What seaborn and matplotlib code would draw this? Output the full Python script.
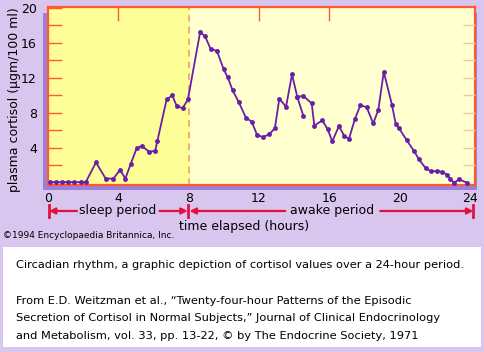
import numpy as np
import pandas as pd
import matplotlib
matplotlib.use('Agg')
import matplotlib.pyplot as plt
from matplotlib.patches import Rectangle
import seaborn as sns

# cortisol samples (hours, ug/100 ml)
hours = [0.1, 0.45, 0.8, 1.15, 1.5, 1.85, 2.15, 2.73, 3.28, 3.72, 4.1, 4.4,
         4.7, 5.04, 5.33, 5.76, 6.1, 6.22, 6.75, 7.07, 7.32, 7.66, 7.96,
         8.65, 8.93, 9.25, 9.61, 9.99, 10.22, 10.5, 10.85, 11.26, 11.59,
         11.89, 12.21, 12.59, 12.91, 13.16, 13.54, 13.88, 14.18, 14.52,
         15.0, 15.15, 15.6, 15.91, 16.17, 16.55, 16.86, 17.12, 17.46, 17.77,
         18.13, 18.5, 18.79, 19.1, 19.57, 19.78, 19.97, 20.4, 20.84, 21.1,
         21.48, 21.77, 22.1, 22.43, 22.71, 22.87, 23.09, 23.4, 23.82]
cortisol = [0.1, 0.1, 0.1, 0.1, 0.1, 0.1, 0.1, 2.35, 0.5, 0.5, 1.5, 0.5,
            2.15, 3.95, 4.25, 3.55, 3.7, 4.8, 9.55, 10.0, 8.8, 8.55, 9.55,
            17.2, 16.8, 15.3, 15.1, 13.0, 12.1, 10.6, 9.25, 7.45, 7.0,
            5.5, 5.25, 5.55, 6.3, 9.65, 8.7, 12.4, 9.85, 9.95,
            9.1, 6.55, 7.15, 6.15, 4.75, 6.5, 5.35, 5.05, 7.3, 8.9,
            8.65, 6.8, 8.35, 12.7, 8.9, 6.75, 6.25, 4.9, 3.6, 2.7,
            1.7, 1.35, 1.35, 1.25, 0.95, 0.5, 0.05, 0.4, 0.05]
# stray branch drawn in the original
stray_hours = [14.18, 14.52]
stray_cortisol = [9.85, 7.7]

x_ticks = [0, 4, 8, 12, 16, 20, 24]
y_ticks = [2, 4, 6, 8, 10, 12, 14, 16, 18, 20]
y_labels = ['', '4', '', '8', '', '12', '', '16', '', '20']

BG = '#d9c6ef'
ORANGE = '#ff5a30'
LINE = '#6a1fa8'
RED = '#e3103c'

W, H = 484, 352
fig = plt.figure(figsize=(W / 100, H / 100), dpi=100)
fig.patch.set_facecolor(BG)

def px(x0, y0, x1, y1):
    return [x0 / W, 1 - y1 / H, (x1 - x0) / W, (y1 - y0) / H]

# purple drop shadow behind the plot box
r = px(43, 13, 477, 190)
fig.add_artist(Rectangle((r[0], r[1]), r[2], r[3], transform=fig.transFigure,
                         facecolor='#9a80d6', edgecolor='none', zorder=-1))
# white caption box
r = px(3, 247, 481, 347)
fig.add_artist(Rectangle((r[0], r[1]), r[2], r[3], transform=fig.transFigure,
                         facecolor='white', edgecolor='none', zorder=-1))

ax = fig.add_axes(px(48, 7, 475, 185))
ax.set_facecolor('#ffffcf')
ax.axvspan(0, 8, color='#fefe98', zorder=0)
ax.axvline(8, color='#f4a070', lw=1.2, ls=(0, (4, 3)), zorder=1)

df = pd.DataFrame({'hours': hours, 'cortisol': cortisol})
sns.lineplot(data=df, x='hours', y='cortisol', sort=False, ax=ax, color=LINE,
             lw=1.3, marker='o', markersize=3.5, markeredgewidth=0, zorder=3)
sns.lineplot(x=stray_hours, y=stray_cortisol, sort=False, ax=ax, color=LINE,
             lw=1.3, marker='o', markersize=3.5, markeredgewidth=0, zorder=3)

ax.set_xlim(0, 24.29)
ax.set_ylim(-0.23, 20.11)
ax.set_xlabel('')
ax.set_ylabel('')
for s in ax.spines.values():
    s.set_color(ORANGE)
    s.set_linewidth(1.6)

ax.set_xticks(x_ticks)
ax.set_xticklabels([str(v) for v in x_ticks])
ax.set_xticks([4, 12, 16, 20], minor=True)
ax.tick_params(axis='x', which='major', length=0, pad=5, labelsize=9)
ax.tick_params(axis='x', which='minor', direction='in', length=10,
               color=ORANGE, width=1)
ax.set_yticks(y_ticks)
ax.set_yticklabels(y_labels)
ax.tick_params(axis='y', direction='in', length=10, color=ORANGE, width=1,
               pad=8, labelsize=9)

top = ax.secondary_xaxis('top')
top.set_xticks([4, 12, 16])
top.tick_params(direction='in', length=10, color=ORANGE, width=1,
                labeltop=False)
top.spines['top'].set_visible(False)

right = ax.twinx()
right.set_ylim(ax.get_ylim())
right.set_yticks(y_ticks[:-1])
right.tick_params(direction='in', length=9, color='#f6c79a', width=1,
                  labelright=False)
for s in right.spines.values():
    s.set_visible(False)

# sleep / awake arrows under the axis
yf = -0.146
kw = dict(xycoords=('data', 'axes fraction'), textcoords=('data', 'axes fraction'),
          annotation_clip=False)
ap = dict(arrowstyle='-|>', color=RED, lw=1.6, mutation_scale=9,
          shrinkA=0, shrinkB=0)
for start, end in [(1.65, 0.05), (6.35, 7.95), (13.5, 8.05), (18.9, 24.2)]:
    ax.annotate('', xy=(end, yf), xytext=(start, yf), arrowprops=ap, **kw)
for xb in [0.05, 7.98, 24.2]:
    ax.plot([xb, xb], [yf - 0.035, yf + 0.035], color=RED, lw=2,
            transform=ax.get_xaxis_transform(), clip_on=False)
ax.text(3.98, yf, 'sleep period', ha='center', va='center', fontsize=9,
        transform=ax.get_xaxis_transform())
ax.text(16.15, yf, 'awake period', ha='center', va='center', fontsize=9,
        transform=ax.get_xaxis_transform())
ax.text(11.15, -0.232, 'time elapsed (hours)', ha='center', va='center',
        fontsize=9, transform=ax.get_xaxis_transform())

fig.text(15 / W, 1 - 100 / H, 'plasma cortisol (\u03bcgm/100 ml)', rotation=90,
         ha='center', va='center', fontsize=9)
fig.text(3 / W, 1 - 236 / H, '\u00a91994 Encyclopaedia Britannica, Inc.',
         ha='left', va='center', fontsize=6.5)

cap = 8.2
fig.text(16 / W, 1 - 265 / H,
         'Circadian rhythm, a graphic depiction of cortisol values over a 24-hour period.',
         ha='left', va='center', fontsize=cap)
fig.text(16 / W, 1 - 301 / H,
         'From E.D. Weitzman et al., \u201cTwenty-four-hour Patterns of the Episodic',
         ha='left', va='center', fontsize=cap)
fig.text(16 / W, 1 - 318 / H,
         'Secretion of Cortisol in Normal Subjects,\u201d Journal of Clinical Endocrinology',
         ha='left', va='center', fontsize=cap)
fig.text(16 / W, 1 - 336 / H,
         'and Metabolism, vol. 33, pp. 13-22, \u00a9 by The Endocrine Society, 1971',
         ha='left', va='center', fontsize=cap)

fig.savefig('out.png', dpi=100, facecolor=BG)
